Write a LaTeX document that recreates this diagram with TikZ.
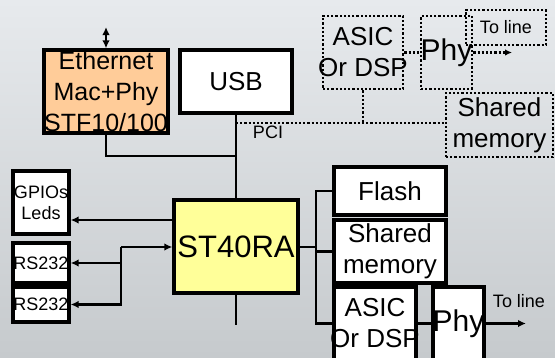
\documentclass[tikz,border=0pt]{standalone}
\usepackage{fontspec}
\newfontfamily\arialfont{Liberation Sans}
\usetikzlibrary{arrows.meta}
\definecolor{ethOrange}{HTML}{FFCC99}
\definecolor{cpuYellow}{HTML}{FFFF99}
\definecolor{bgTop}{HTML}{E7EAED}
\definecolor{bgBot}{HTML}{C6CACD}
\newcommand{\ovr}[1]{\makebox[0pt]{#1}}

\begin{document}
\begin{tikzpicture}[x=1pt,y=-1pt,
    hwBox/.style={rectangle,draw=black,line width=3.3pt,fill=white,inner sep=0pt,align=center,font=\arialfont\fontsize{26}{31}\selectfont},
    hwDot/.style={rectangle,draw=black,line width=2.7pt,dash pattern=on 2.2pt off 2pt,inner sep=0pt,align=center,font=\arialfont\fontsize{26}{31}\selectfont},
    smallTxt/.style={font=\arialfont\fontsize{18}{21}\selectfont},
    hwLine/.style={line width=2.7pt},
    hwArrow/.style={->,>={Latex[length=8pt,width=7.5pt]},line width=2.7pt},
    dotLine/.style={line width=2.7pt,dash pattern=on 2.2pt off 2pt},
]
\useasboundingbox (0,0) rectangle (555,357);
\clip (0,0) rectangle (555,357);
\shade[top color=bgTop,middle color=bgTop,bottom color=bgBot] (0,0) rectangle (555,357);
% === left side ===
\node[hwBox,fill=ethOrange,minimum width=124pt,minimum height=83pt,font=\arialfont\fontsize{25}{31}\selectfont] (eth) at (106,91.5) {Ethernet\\Mac+Phy\\\ovr{STF10/100}};
\node[hwBox,minimum width=112pt,minimum height=63pt] (usb) at (236,81.5) {USB};
\node[hwBox,smallTxt,minimum width=56pt,minimum height=63pt] (gpio) at (41,202.5) {GPIOs\\Leds};
\node[hwBox,smallTxt,minimum width=56pt,minimum height=40pt] (rsA) at (41,263) {RS232};
\node[hwBox,smallTxt,minimum width=56pt,minimum height=35pt] (rsB) at (41,304.5) {RS232};
\node[hwBox,fill=cpuYellow,minimum width=124pt,minimum height=93pt,font=\arialfont\fontsize{31}{37}\selectfont] (cpu) at (236,246.5) {ST40RA};
% === right side ===
\node[hwBox,minimum width=112pt,minimum height=48pt] (flash) at (390,191) {Flash};
\node[hwBox,minimum width=112pt,minimum height=63pt] (shm) at (390,251.5) {Shared\\memory};
\node[hwBox,minimum width=82pt,minimum height=73pt] (asic) at (375,323.5) {ASIC\\\ovr{Or DSP}};
\node[hwBox,minimum width=51pt,minimum height=73pt,font=\arialfont\fontsize{30}{36}\selectfont] (phy) at (458.5,323.5) {\ovr{Phy}};
\node[smallTxt] (tolineLbl) at (519,301) {To line};
% === PCI side (dotted) ===
\node[hwDot,minimum width=80pt,minimum height=73pt] (asicB) at (363,52.5) {ASIC\\\ovr{Or DSP}};
\node[hwDot,minimum width=51pt,minimum height=73pt,font=\arialfont\fontsize{30}{36}\selectfont] (phyB) at (446.5,52.5) {\ovr{Phy}};
\node[hwDot,smallTxt,minimum width=80pt,minimum height=35pt] (tolineB) at (506,27.5) {To line};
\node[hwDot,minimum width=107pt,minimum height=64pt] (shmB) at (499.5,125) {Shared\\memory};
\node[smallTxt] (pciLbl) at (268,132) {PCI};
% === connections ===
\coordinate (ethTop) at (106,27);
\coordinate (ethJoin) at (236,156);
\coordinate (pciJoin) at (236,123);
\coordinate (cpuBot) at (236,325);
\coordinate (lBus) at (121,247);
\coordinate (rBus) at (316,247);
\coordinate (lineEnd) at (526,323.5);
\coordinate (dotEnd) at (512,52.5);
\draw[hwArrow,<->] (ethTop) -- (eth.north);
\draw[hwLine] (eth.south) |- (ethJoin);
\draw[hwLine] (usb.south) -- (cpu.north);
\draw[hwLine] (cpu.south) -- (cpuBot);
\draw[hwArrow] ([yshift=26.5pt]cpu.west) -- ([yshift=26.5pt]cpu.west -| gpio.east);
\draw[hwArrow] (lBus) -- (lBus -| cpu.west);
\draw[hwArrow] (lBus) |- (rsB.east);
\draw[hwArrow] (lBus |- rsA.east) -- (rsA.east);
\draw[hwLine] (cpu.east |- rBus) -- (rBus);
\draw[hwLine] (flash.west) -| (rBus) |- (asic.west);
\draw[hwLine] (shm.west) -- (shm.west -| rBus);
\draw[hwLine] (asic.east) -- (phy.west);
\draw[hwArrow] (phy.east) -- (lineEnd);
\draw[dotLine] (pciJoin) -- (pciJoin -| shmB.west);
\draw[dotLine] (asicB.south) -- (asicB.south |- pciJoin);
\draw[dotLine] (asicB.east) -- (phyB.west);
\draw[dotLine,-{Latex[length=7pt,width=6.5pt]}] (phyB.east) -- (dotEnd);
\end{tikzpicture}
\end{document}
